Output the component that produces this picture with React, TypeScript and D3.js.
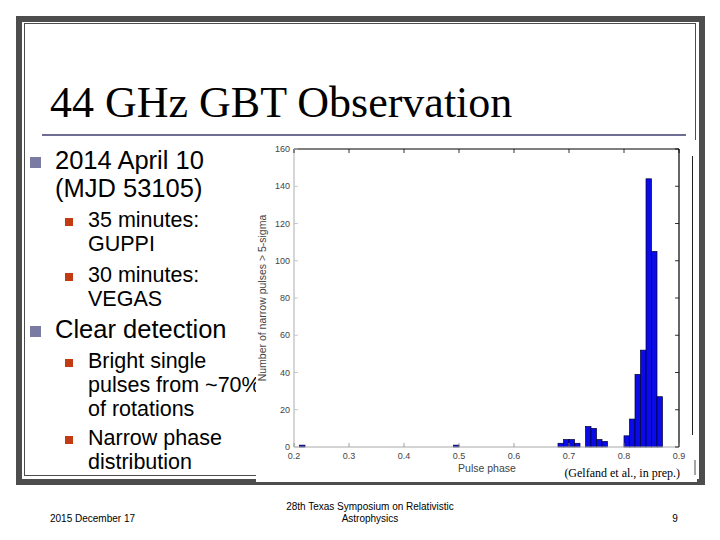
import React from "react";
import * as d3 from "d3";

const binStarts = [0.21, 0.49, 0.68, 0.69, 0.70, 0.71, 0.73, 0.74, 0.75, 0.76, 0.80, 0.81, 0.82, 0.83, 0.84, 0.85, 0.86];
const binCounts = [1, 1, 2, 4, 4, 2, 11, 10, 4, 3, 6, 15, 39, 52, 144, 105, 27];
const binWidth = 0.01;
const xTicks = [0.2, 0.3, 0.4, 0.5, 0.6, 0.7, 0.8, 0.9];
const yTicks = [0, 20, 40, 60, 80, 100, 120, 140, 160];

const title = "44 GHz GBT Observation";
const bullets = [
  { level: 1, lines: ["2014 April 10", "(MJD 53105)"], y: 169 },
  { level: 2, lines: ["35 minutes:", "GUPPI"], y: 227 },
  { level: 2, lines: ["30 minutes:", "VEGAS"], y: 282 },
  { level: 1, lines: ["Clear detection"], y: 338 },
  { level: 2, lines: ["Bright single", "pulses from ~70%", "of rotations"], y: 368 },
  { level: 2, lines: ["Narrow phase", "distribution"], y: 445 },
];

export default function App() {
  const x = d3.scaleLinear().domain([0.2, 0.9]).range([294, 679]);
  const y = d3.scaleLinear().domain([0, 160]).range([447, 149]);
  const sans = "Liberation Sans, Arial, sans-serif";
  const serif = "Liberation Serif, Times New Roman, serif";
  return (
    <svg width={720} height={540} style={{ position: "absolute", left: 0, top: 0 }}>
      <rect x={0} y={0} width={720} height={540} fill="#fff" />
      {/* slide frame */}
      <rect x={19} y={19} width={683} height={463} fill="none" stroke="#4d4d4d" strokeWidth={6} />
      <rect x={24.5} y={23.5} width={671} height={452} fill="none" stroke="#4d4d4d" strokeWidth={1} />
      {/* title */}
      <text x={50} y={117} fontFamily={serif} fontSize={44} fill="#000">{title}</text>
      <line x1={42} x2={686} y1={135} y2={135} stroke="#6e6e92" strokeWidth={2} />
      {/* bullets */}
      {bullets.map((b, i) => {
        const fs = b.level === 1 ? 25.5 : 21.5;
        const lh = b.level === 1 ? 28 : 24;
        const tx = b.level === 1 ? 55 : 88;
        return (
          <g key={i}>
            {b.level === 1 ? (
              <rect x={30} y={b.y - 12} width={11} height={11} fill="#7a7aa2" />
            ) : (
              <rect x={65} y={b.y - 9} width={8} height={8} fill="#c23b12" />
            )}
            {b.lines.map((l, j) => (
              <text key={j} x={tx} y={b.y + j * lh} fontFamily={sans} fontSize={fs} fill="#000">{l}</text>
            ))}
          </g>
        );
      })}
      {/* chart image background */}
      <rect x={256} y={140} width={441} height={342} fill="#fff" />
      <line x1={695} x2={695} y1={460} y2={475} stroke="#4d4d4d" strokeWidth={1} />
      <line x1={692.5} x2={692.5} y1={156} y2={435} stroke="#222" strokeWidth={1} />
      {/* bars */}
      {binStarts.map((s, i) => (
        <rect key={i} x={x(s)} y={y(binCounts[i])} width={x(s + binWidth) - x(s)} height={y(0) - y(binCounts[i])}
          fill="#0b0be6" stroke="#000033" strokeWidth={0.7} />
      ))}
      {/* axes */}
      <line x1={294} x2={679} y1={149} y2={149} stroke="#000" strokeWidth={1.2} />
      <line x1={679} x2={679} y1={149} y2={447} stroke="#000" strokeWidth={1.2} />
      <line x1={294} x2={294} y1={149} y2={447} stroke="#bbb" strokeWidth={1.2} />
      <line x1={294} x2={679} y1={447} y2={447} stroke="#aaa" strokeWidth={1.2} />
      {xTicks.map((t, i) => (
        <g key={i}>
          <line x1={x(t)} x2={x(t)} y1={149} y2={153} stroke="#000" strokeWidth={0.8} />
          <line x1={x(t)} x2={x(t)} y1={447} y2={443} stroke="#888" strokeWidth={0.8} />
          <text x={x(t)} y={459} textAnchor="middle" fontFamily={sans} fontSize={9} fill="#444">{String(t)}</text>
        </g>
      ))}
      {yTicks.map((t, i) => (
        <g key={i}>
          <line x1={679} x2={675} y1={y(t)} y2={y(t)} stroke="#000" strokeWidth={0.8} />
          <line x1={294} x2={298} y1={y(t)} y2={y(t)} stroke="#bbb" strokeWidth={0.8} />
          <text x={290} y={y(t) + 3} textAnchor="end" fontFamily={sans} fontSize={9} fill="#444">{String(t)}</text>
        </g>
      ))}
      <text x={487} y={472} textAnchor="middle" fontFamily={sans} fontSize={10.5} fill="#444">Pulse phase</text>
      <text transform="translate(266,298) rotate(-90)" textAnchor="middle" fontFamily={sans} fontSize={10.5} fill="#444">Number of narrow pulses &gt; 5-sigma</text>
      <text x={680} y={477} textAnchor="end" fontFamily={serif} fontSize={12} fill="#000">(Gelfand et al., in prep.)</text>
      {/* footer */}
      <text x={50} y={522} fontFamily={sans} fontSize={10} fill="#000">2015 December 17</text>
      <text x={370} y={510} textAnchor="middle" fontFamily={sans} fontSize={10} fill="#000">28th Texas Symposium on Relativistic</text>
      <text x={370} y={522} textAnchor="middle" fontFamily={sans} fontSize={10} fill="#000">Astrophysics</text>
      <text x={675} y={522} textAnchor="middle" fontFamily={sans} fontSize={10} fill="#000">9</text>
    </svg>
  );
}
